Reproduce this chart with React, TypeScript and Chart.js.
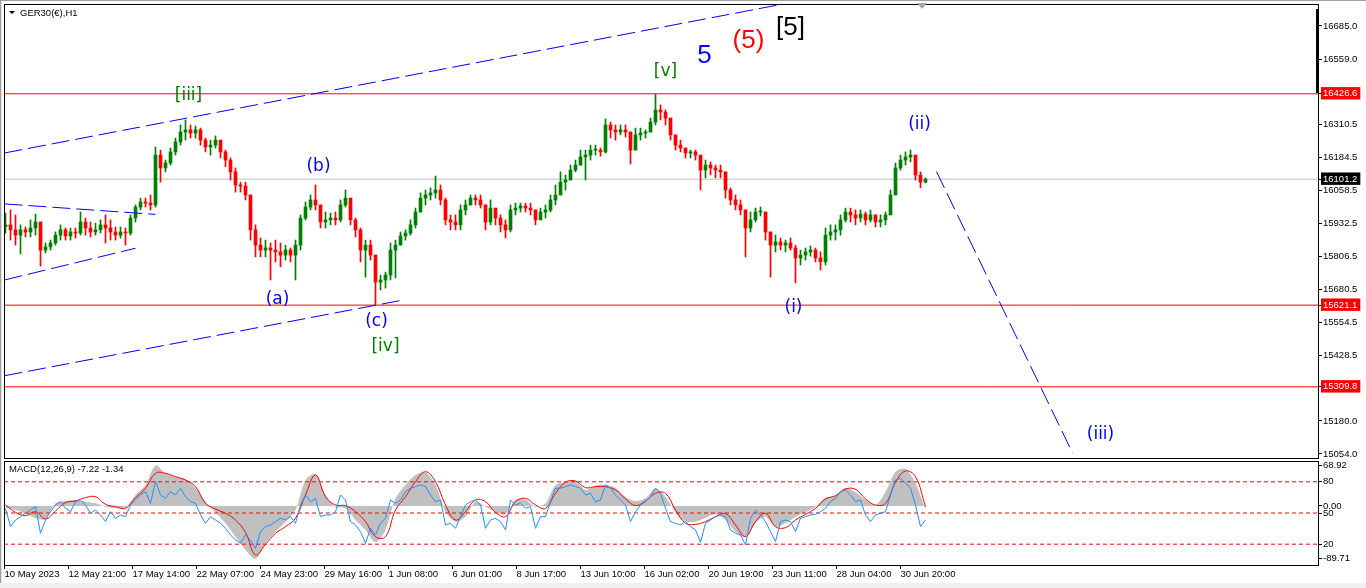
import React, { useEffect, useRef } from "react";
import { Chart, registerables } from "chart.js";

Chart.register(...registerables);

const UI_FONT = '"Liberation Sans", Arial, sans-serif';
const WAVE_FONT = '"DejaVu Sans", Verdana, sans-serif';

// ---------------- price data (each drawn candle = 5 H1 bars) ----------------
const candleHours = 5;

const candleOpen = [15920,15927,15908,15888,15908,15900,15915,15938,15831,15843,
15858,15888,15908,15885,15900,15896,15938,15915,15900,15908,
15927,15915,15900,15888,15900,15896,15953,15995,16014,16010,
16003,16193,16144,16163,16205,16243,16281,16289,16277,16289,
16250,16224,16231,16250,16205,16174,16129,16079,16075,16041,
15908,15850,15831,15839,15831,15824,15812,15831,15812,15850,
15953,15995,16022,16003,15938,15946,15953,15946,16003,16029,
15946,15908,15831,15850,15812,15709,15717,15736,15831,15850,
15885,15896,15927,15976,16029,16041,16049,16060,16022,15946,
15938,15927,15984,16003,16029,16022,16003,15938,15991,15953,
15927,15908,15984,15991,15999,15991,15984,15946,15976,15984,
16022,16041,16090,16098,16136,16155,16186,16193,16212,16212,
16205,16308,16289,16281,16289,16281,16212,16270,16277,16281,
16319,16365,16357,16334,16270,16231,16220,16201,16205,16193,
16136,16155,16144,16136,16129,16060,16022,16003,15984,15915,
15946,15976,15976,15900,15850,15862,15850,15858,15839,15801,
15812,15824,15831,15801,15786,15888,15900,15908,15946,15976,
15965,15953,15968,15946,15965,15938,15946,15965,16041,16144,
16174,16186,16193,16117,16090];

const candleHigh = [15972,15984,15965,15927,15919,15946,15968,15938,15858,15869,
15900,15927,15915,15915,15915,15976,15953,15938,15934,15946,
15965,15946,15919,15919,15915,15965,16003,16029,16029,16041,
16224,16212,16174,16220,16258,16308,16327,16308,16304,16296,
16258,16250,16266,16250,16212,16182,16144,16090,16090,16041,
15927,15877,15869,15858,15869,15858,15850,15839,15869,15965,
16014,16041,16079,16003,15976,15972,15976,16022,16060,16029,
15953,15915,15869,15869,15812,15736,15747,15858,15869,15900,
15908,15946,15991,16049,16060,16068,16113,16079,16029,15965,
15965,16003,16022,16041,16041,16041,16003,16022,15991,15965,
15946,16003,16010,16010,16010,16010,15984,15991,16003,16041,
16079,16129,16117,16155,16174,16212,16212,16231,16231,16220,
16331,16319,16308,16308,16308,16281,16296,16296,16289,16334,
16425,16384,16365,16334,16270,16250,16220,16212,16212,16193,
16174,16167,16155,16155,16129,16068,16041,16022,15984,15976,
15991,15995,15976,15900,15888,15877,15869,15877,15850,15831,
15839,15847,15839,15824,15915,15927,15927,15965,15991,15991,
15984,15984,15976,15984,15965,15965,15976,16060,16163,16193,
16205,16212,16193,16129,16106];

const candleLow = [15896,15869,15850,15816,15881,15881,15888,15770,15820,15831,
15850,15869,15869,15869,15877,15888,15888,15881,15888,15896,
15858,15869,15869,15877,15850,15888,15938,15984,15995,15984,
15995,16090,16129,16155,16193,16231,16250,16258,16258,16231,
16205,16193,16220,16182,16148,16098,16052,16052,16022,15869,
15805,15805,15805,15717,15786,15767,15793,15786,15717,15831,
15946,15984,15984,15915,15915,15927,15927,15938,15995,15927,
15881,15786,15728,15793,15622,15679,15686,15717,15725,15850,
15869,15888,15915,15976,16003,16022,16029,16003,15927,15908,
15908,15908,15965,16003,16003,15991,15908,15927,15927,15900,
15877,15900,15965,15976,15976,15965,15927,15946,15953,15976,
16003,16041,16060,16098,16129,16155,16098,16174,16193,16189,
16201,16258,16250,16270,16262,16159,16212,16250,16258,16281,
16308,16327,16308,16250,16212,16205,16182,16182,16174,16060,
16106,16117,16106,16106,16029,16003,15984,15965,15805,15900,
15938,15961,15869,15728,15824,15831,15824,15831,15706,15774,
15793,15808,15786,15755,15774,15869,15869,15888,15938,15938,
15927,15938,15927,15938,15919,15919,15927,15965,16041,16136,
16155,16167,16098,16068,16087];

const candleClose = [15927,15908,15888,15908,15900,15915,15938,15831,15843,15858,
15888,15908,15885,15900,15896,15938,15915,15900,15908,15927,
15915,15900,15888,15900,15896,15953,15995,16014,16010,16003,
16193,16144,16163,16205,16243,16281,16289,16277,16289,16250,
16224,16231,16250,16205,16174,16129,16079,16075,16041,15908,
15850,15831,15839,15831,15824,15812,15831,15812,15850,15953,
15995,16022,16003,15938,15946,15953,15946,16003,16029,15946,
15908,15831,15850,15812,15709,15717,15736,15831,15850,15885,
15896,15927,15976,16029,16041,16049,16060,16022,15946,15938,
15927,15984,16003,16029,16022,16003,15938,15991,15953,15927,
15908,15984,15991,15999,15991,15984,15946,15976,15984,16022,
16041,16090,16098,16136,16155,16186,16193,16212,16212,16205,
16308,16289,16281,16289,16281,16212,16270,16277,16281,16319,
16365,16357,16334,16270,16231,16220,16201,16205,16193,16136,
16155,16144,16136,16129,16060,16022,16003,15984,15915,15946,
15976,15976,15900,15850,15862,15850,15858,15839,15801,15812,
15824,15831,15801,15786,15888,15900,15908,15946,15976,15965,
15953,15968,15946,15965,15938,15946,15965,16041,16144,16174,
16186,16193,16117,16090,16101];

// ---------------- price axis & levels ----------------
const priceTicks = [16685.0, 16559.0, 16426.6, 16310.5, 16184.5, 16101.2, 16058.5, 15932.5,
  15806.5, 15680.5, 15621.1, 15554.5, 15428.5, 15309.8, 15180.0, 15054.0];
const resistanceLevels = [16426.6, 15621.1, 15309.8];
const lastPrice = 16101.2;

// trend lines: [bar0, price0, bar1, price1]
const channelLines = [
  [0, 16201, 779, 16769],
  [0, 15352, 399, 15641],
  [0, 16007, 151, 15967],
  [0, 15717, 131, 15838],
  [932, 16130, 1068, 15058],
];

// Elliott wave labels
const waveText = ["[iii]", "(a)", "(b)", "(c)", "[iv]", "[v]", "5", "(5)", "[5]", "(i)", "(ii)", "(iii)"];
const waveBar = [184, 273, 314, 372, 381, 661, 700, 744, 786, 789, 915, 1096];
const wavePrice = [16420, 15641, 16148, 15557, 15462, 16513, 16571, 16628, 16677, 15610, 16308, 15126];
const waveDegree = ["minorG", "minuette", "minuette", "minuette", "minorG", "minorG", "int", "prim", "cyc", "minuette", "minuette", "minuette"];

// ---------------- time axis ----------------
const timeLabels = ["10 May 2023", "12 May 21:00", "17 May 14:00", "22 May 07:00", "24 May 23:00",
  "29 May 16:00", "1 Jun 08:00", "6 Jun 01:00", "8 Jun 17:00", "13 Jun 10:00", "16 Jun 02:00",
  "20 Jun 19:00", "23 Jun 11:00", "28 Jun 04:00", "30 Jun 20:00"];
const timeLabelBars = [0, 64, 128, 192, 256, 320, 384, 448, 512, 576, 640, 704, 768, 832, 896];

// ---------------- MACD panel ----------------
const macdHours = 10;
const macdMain = [-4.0,-6.8,-12.5,-20.9,-22.1,4.5,8.5,10.2,7.4,4.5,
-1.1,-4.0,-2.8,18.7,35.7,68.9,55.5,49.8,45.8,30.0,
7.4,-10.8,-29.4,-52.1,-74.7,-89.7,-63.4,-43.6,-26.6,-6.8,
44.1,53.8,18.7,-1.1,-4.0,-23.8,-40.8,-61.7,-40.8,13.0,
35.7,52.6,57.2,35.7,-9.6,-26.6,-18.1,7.4,-1.1,-9.6,
-14.2,10.2,10.2,-1.1,4.5,35.7,40.2,42.5,27.2,34.5,
35.7,31.1,15.8,8.5,13.0,30.0,15.8,-10.8,-26.6,-26.6,
-19.8,-14.2,-23.8,-43.6,-52.1,-29.4,-18.1,-35.1,-29.4,-18.1,
-10.8,-1.1,14.2,17.5,31.1,23.2,10.2,1.7,24.3,58.3,
62.8,38.5,-7.2];
const macdSignal = [1.7,-10.8,-16.4,-9.6,-22.1,-8.5,5.7,8.5,14.2,15.8,
2.8,-1.1,-4.0,14.2,30.0,55.5,55.5,49.8,44.1,32.8,
4.5,-5.1,-12.5,-23.8,-44.7,-83.2,-65.1,-46.4,-35.1,-20.9,
18.7,52.6,15.8,1.7,0.6,-9.6,-26.6,-52.1,-52.1,-6.8,
15.8,41.3,58.3,41.3,1.7,-23.8,-9.6,10.2,7.4,-10.8,
-18.1,7.4,13.0,1.7,-4.0,21.5,40.2,42.5,31.1,32.8,
32.8,27.2,11.9,0.6,8.5,21.5,21.5,-6.8,-29.4,-31.1,
-26.6,-18.1,-13.0,-32.3,-52.1,-26.6,-12.5,-35.1,-36.8,-23.8,
-14.2,-4.0,11.9,17.5,28.9,28.3,11.9,1.7,4.5,40.2,
59.4,49.8,-1.3];
const oscLine = [54.5,36.9,43.3,46.5,49.7,52.9,56.1,30.5,43.3,51.3,
57.7,60.9,54.5,51.3,60.9,62.5,57.7,49.7,52.9,48.1,
41.7,51.3,44.9,48.1,46.5,57.7,62.5,67.3,70.5,59.3,
80.2,67.3,64.1,70.5,67.3,73.8,65.7,60.9,59.3,48.1,
40.1,46.5,43.3,40.1,35.3,28.9,24.1,20.9,28.9,24.1,
16.1,32.1,36.9,38.5,41.7,44.9,43.3,46.5,40.1,57.7,
67.3,60.9,64.1,46.5,48.1,48.1,51.3,67.3,62.5,41.7,
38.5,32.1,20.9,35.3,28.9,40.1,44.9,62.5,59.3,62.5,
70.5,73.8,75.4,77.0,75.4,67.3,60.9,62.5,38.5,40.1,
35.3,46.5,57.7,60.9,62.5,57.7,35.3,43.3,44.9,41.7,
33.7,62.5,57.7,59.3,54.5,56.1,35.3,46.5,46.5,60.9,
73.8,73.8,75.4,77.0,75.4,73.8,67.3,68.9,60.9,62.5,
77.0,73.8,67.3,62.5,57.7,41.7,51.3,57.7,60.9,65.7,
73.8,68.9,54.5,41.7,40.1,38.5,41.7,36.9,33.7,21.8,
40.1,43.3,46.5,48.1,46.5,33.7,30.5,28.9,19.3,44.9,
52.9,48.1,41.7,32.1,22.5,41.7,43.3,41.7,32.1,44.9,
46.5,48.1,48.8,51.3,54.5,60.9,64.1,70.5,72.1,67.3,
60.9,62.5,48.1,41.7,48.1,49.7,51.3,67.3,81.8,83.4,
78.6,73.8,57.7,36.9,43.3];
const oscLevels = [80, 50, 20];
const macdTicks = [68.92, 0, -89.71];

// ---------------- scale ranges & styles ----------------
const PRICE_MIN = 15038.6;
const PRICE_MAX = 16768.8;
const MACD_MIN = -100.2;
const MACD_MAX = 76.4;
const X_MIN = -0.5;
const X_MAX = 1313.5;
const UP = "#008000";
const DOWN = "#ff0000";

const waveStyles: Record<string, { color: string; font: string }> = {
  minorG: { color: "#008000", font: `17px ${WAVE_FONT}` },
  minuette: { color: "#0000ff", font: `17px ${WAVE_FONT}` },
  int: { color: "#0000ff", font: `26px ${UI_FONT}` },
  prim: { color: "#ff0000", font: `26px ${UI_FONT}` },
  cyc: { color: "#000000", font: `26px ${UI_FONT}` },
};

const hLine = (v: number) => [{ x: X_MIN, y: v }, { x: X_MAX, y: v }];

export default function App() {
  const mainRef = useRef<HTMLCanvasElement | null>(null);
  const macdRef = useRef<HTMLCanvasElement | null>(null);

  useEffect(() => {
    Chart.defaults.font.family = UI_FONT;
    Chart.defaults.color = "#000";

    const candleX = candleClose.map((_, i) => 1 + i * candleHours);
    const isUp = (i: number) => candleClose[i] >= candleOpen[i];

    const mainPlugin = {
      id: "mainDecor",
      afterDraw(chart: any) {
        const { ctx, chartArea: a, scales } = chart;
        const xs = scales.x;
        const ys = scales.y;
        ctx.save();
        ctx.textAlign = "center";
        ctx.textBaseline = "middle";
        waveText.forEach((t, k) => {
          const st = waveStyles[waveDegree[k]];
          ctx.font = st.font;
          ctx.fillStyle = st.color;
          ctx.fillText(t, xs.getPixelForValue(waveBar[k]), ys.getPixelForValue(wavePrice[k]));
        });
        ctx.strokeStyle = "#000";
        ctx.lineWidth = 1;
        ctx.strokeRect(a.left + 0.5, a.top + 0.5, a.right - a.left, a.bottom - a.top);
        ctx.fillStyle = "#000";
        ctx.fillRect(a.right - 2, a.top + 5, 3, 84);
        const sx = Math.round(xs.getPixelForValue(917.5));
        ctx.fillStyle = "#a8a8a8";
        ctx.beginPath();
        ctx.moveTo(sx - 5, a.top - 1);
        ctx.lineTo(sx + 5, a.top - 1);
        ctx.lineTo(sx, a.top + 5);
        ctx.closePath();
        ctx.fill();
        ctx.fillStyle = "#000";
        ctx.beginPath();
        ctx.moveTo(a.left + 5, a.top + 7);
        ctx.lineTo(a.left + 11, a.top + 7);
        ctx.lineTo(a.left + 8, a.top + 10);
        ctx.closePath();
        ctx.fill();
        ctx.font = `9.5px ${UI_FONT}`;
        ctx.textAlign = "left";
        ctx.textBaseline = "middle";
        ctx.fillText("GER30(\u20ac),H1", a.left + 16, a.top + 9);
        ctx.restore();
      },
    };

    const macdPlugin = {
      id: "macdDecor",
      afterLayout(chart: any) {
        // let the oscillator level axis share the MACD axis strip on the right
        const o = chart.scales.yOsc;
        const m = chart.scales.y;
        o.left = m.left;
        o.right = m.right;
        o.width = m.width;
      },
      afterDraw(chart: any) {
        const { ctx, chartArea: a } = chart;
        ctx.save();
        ctx.strokeStyle = "#000";
        ctx.lineWidth = 1;
        ctx.strokeRect(a.left + 0.5, a.top + 0.5, a.right - a.left, a.bottom - a.top);
        ctx.fillStyle = "#000";
        ctx.font = `9.5px ${UI_FONT}`;
        ctx.textAlign = "left";
        ctx.textBaseline = "middle";
        ctx.fillText("MACD(12,26,9) -7.22 -1.34", a.left + 5, a.top + 8);
        ctx.restore();
      },
    };

    const mainChart = new Chart(mainRef.current as HTMLCanvasElement, {
      type: "bar",
      data: {
        datasets: [
          ...resistanceLevels.map((v) => ({
            type: "line",
            data: hLine(v),
            borderColor: "#ff0000",
            borderWidth: 1,
            pointRadius: 0,
            order: 10,
          })),
          {
            type: "line",
            data: hLine(lastPrice),
            borderColor: "#c0c0c0",
            borderWidth: 1,
            pointRadius: 0,
            order: 10,
          },
          {
            type: "bar",
            data: candleX.map((x, i) => ({ x, y: [candleLow[i], candleHigh[i]] })),
            backgroundColor: (c: any) => (isUp(c.dataIndex) ? UP : DOWN),
            barThickness: 1,
            grouped: false,
            order: 5,
          },
          {
            type: "bar",
            data: candleX.map((x, i) => ({ x, y: [candleOpen[i], candleClose[i]] })),
            backgroundColor: (c: any) => (isUp(c.dataIndex) ? UP : DOWN),
            barThickness: 3,
            minBarLength: 1,
            grouped: false,
            order: 4,
          },
          ...channelLines.map(([b0, p0, b1, p1]) => ({
            type: "line",
            data: [{ x: b0, y: p0 }, { x: b1, y: p1 }],
            borderColor: "#0000ff",
            borderWidth: 1,
            borderDash: [18, 6],
            pointRadius: 0,
            order: 1,
          })),
        ] as any,
      },
      options: {
        responsive: false,
        animation: false,
        events: [],
        layout: { padding: { left: 4, top: 4, right: 0, bottom: 2 }, autoPadding: false } as any,
        plugins: { legend: { display: false }, tooltip: { enabled: false } },
        scales: {
          x: { type: "linear", min: X_MIN, max: X_MAX, offset: false, display: false },
          y: {
            type: "linear",
            position: "right",
            min: PRICE_MIN,
            max: PRICE_MAX,
            afterBuildTicks: (s: any) => {
              s.ticks = priceTicks.map((v) => ({ value: v }));
            },
            afterFit: (s: any) => {
              s.width = 48;
              s.paddingTop = 0;
              s.paddingBottom = 0;
            },
            grid: { drawOnChartArea: false, drawTicks: true, tickLength: 4, color: "#000" },
            border: { display: true, color: "#000" },
            ticks: {
              autoSkip: false,
              padding: 1,
              font: { size: 9.5 },
              color: (c: any) =>
                resistanceLevels.includes(c.tick?.value) || c.tick?.value === lastPrice ? "#fff" : "#000",
              showLabelBackdrop: (c: any) =>
                resistanceLevels.includes(c.tick?.value) || c.tick?.value === lastPrice,
              backdropColor: (c: any) => (c.tick?.value === lastPrice ? "#000" : "#ff0000"),
              backdropPadding: { left: 2, right: 3, top: 1, bottom: 0 },
              callback: (v: any) => Number(v).toFixed(1),
            } as any,
          } as any,
        },
      },
      plugins: [mainPlugin],
    } as any);

    const oscX = oscLine.map((_, i) => 1 + i * candleHours);
    const macdX = macdMain.map((_, j) => 1 + j * macdHours);

    const macdChart = new Chart(macdRef.current as HTMLCanvasElement, {
      type: "line",
      data: {
        datasets: [
          {
            data: macdX.map((x, j) => ({ x, y: macdMain[j] })),
            borderWidth: 0,
            borderColor: "rgba(0,0,0,0)",
            backgroundColor: "#c0c0c0",
            fill: "origin",
            tension: 0.3,
            pointRadius: 0,
            yAxisID: "y",
            order: 5,
          },
          ...oscLevels.map((v) => ({
            data: hLine(v),
            borderColor: "#ff0000",
            borderWidth: 1,
            borderDash: [4, 3],
            pointRadius: 0,
            yAxisID: "yOsc",
            order: 4,
          })),
          {
            data: macdX.map((x, j) => ({ x, y: macdSignal[j] })),
            borderColor: "#ff0000",
            borderWidth: 1,
            tension: 0.4,
            pointRadius: 0,
            yAxisID: "y",
            order: 2,
          },
          {
            data: oscX.map((x, i) => ({ x, y: oscLine[i] })),
            borderColor: "#1e90ff",
            borderWidth: 1,
            tension: 0,
            pointRadius: 0,
            yAxisID: "yOsc",
            order: 1,
          },
        ] as any,
      },
      options: {
        responsive: false,
        animation: false,
        events: [],
        layout: { padding: { left: 4, top: 3, right: 0, bottom: 0 }, autoPadding: false } as any,
        plugins: { legend: { display: false }, tooltip: { enabled: false } },
        scales: {
          x: {
            type: "linear",
            position: "bottom",
            min: X_MIN,
            max: X_MAX,
            offset: false,
            afterBuildTicks: (s: any) => {
              s.ticks = timeLabelBars.map((v) => ({ value: v }));
            },
            afterFit: (s: any) => {
              s.height = 23;
              s.paddingLeft = 0;
              s.paddingRight = 0;
            },
            grid: { drawOnChartArea: false, drawTicks: true, tickLength: 4, color: "#000" },
            border: { display: true, color: "#000" },
            ticks: {
              autoSkip: false,
              maxRotation: 0,
              minRotation: 0,
              align: "start",
              padding: 0,
              font: { size: 9.5 },
              callback: (_v: any, i: number) => timeLabels[i],
            },
          } as any,
          yOsc: {
            type: "linear",
            position: "right",
            weight: 0,
            min: 0,
            max: 100,
            afterBuildTicks: (s: any) => {
              s.ticks = oscLevels.map((v) => ({ value: v }));
            },
            afterFit: (s: any) => {
              s.width = 0;
              s.paddingTop = 0;
              s.paddingBottom = 0;
            },
            grid: { drawOnChartArea: false, drawTicks: true, tickLength: 4, color: "#000" },
            border: { display: false },
            ticks: { autoSkip: false, padding: 1, font: { size: 9.5 }, callback: (v: any) => String(v) },
          } as any,
          y: {
            type: "linear",
            position: "right",
            weight: 1,
            min: MACD_MIN,
            max: MACD_MAX,
            afterBuildTicks: (s: any) => {
              s.ticks = macdTicks.map((v) => ({ value: v }));
            },
            afterFit: (s: any) => {
              s.width = 48;
              s.paddingTop = 0;
              s.paddingBottom = 0;
            },
            grid: { drawOnChartArea: false, drawTicks: true, tickLength: 4, color: "#000" },
            border: { display: true, color: "#000" },
            ticks: { autoSkip: false, padding: 1, font: { size: 9.5 }, callback: (v: any) => Number(v).toFixed(2) },
          } as any,
        },
      },
      plugins: [macdPlugin],
    } as any);

    return () => {
      mainChart.destroy();
      macdChart.destroy();
    };
  }, []);

  return (
    <div
      style={{
        position: "absolute",
        left: 0,
        top: 0,
        width: 1366,
        height: 588,
        background: "#ffffff",
        overflow: "hidden",
      }}
    >
      <canvas ref={mainRef} width={1366} height={460} style={{ position: "absolute", left: 0, top: 0 }} />
      <canvas ref={macdRef} width={1366} height={130} style={{ position: "absolute", left: 0, top: 458 }} />
      <div style={{ position: "absolute", left: 0, top: 0, width: 1, height: 588, background: "#a0a0a0" }} />
      <div style={{ position: "absolute", left: 1, top: 0, width: 1, height: 588, background: "#e3e3e3" }} />
      <div style={{ position: "absolute", left: 0, top: 0, width: 1366, height: 1, background: "#a0a0a0" }} />
      <div style={{ position: "absolute", left: 0, top: 583, width: 1366, height: 5, background: "#f0f0f0" }} />
    </div>
  );
}
